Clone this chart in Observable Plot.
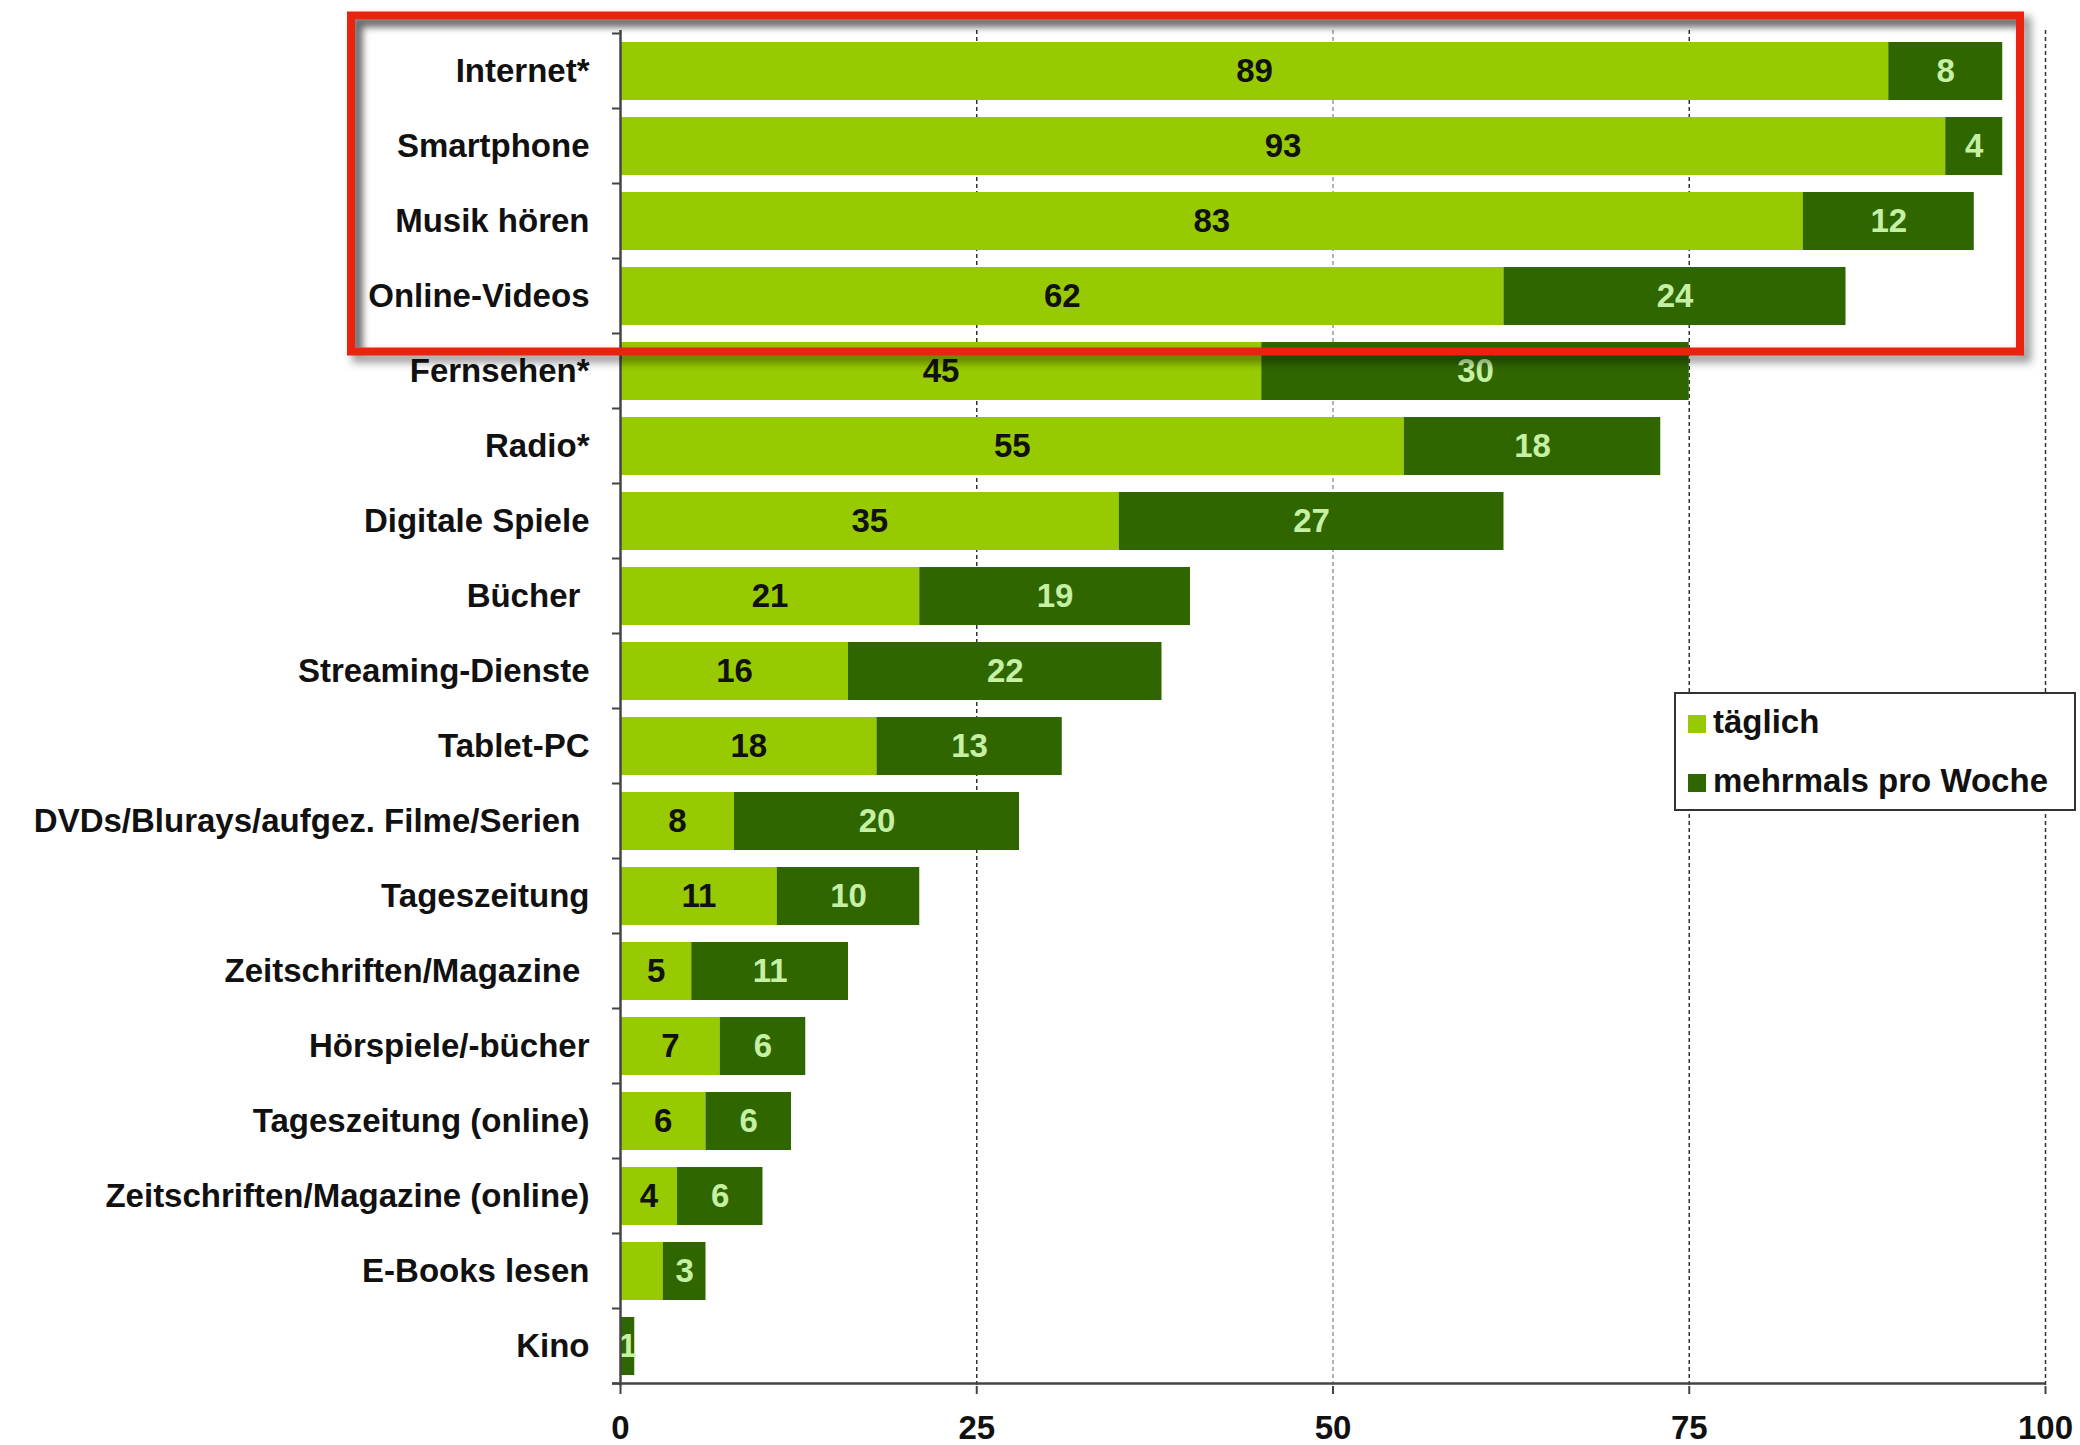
<!DOCTYPE html>
<html>
<head>
<meta charset="utf-8">
<script src="https://cdn.jsdelivr.net/npm/d3@7"></script>
<script src="https://cdn.jsdelivr.net/npm/@observablehq/plot@0.6"></script>
<style>
  body { margin: 0; background: #fff; }
  #chart { width: 2080px; height: 1445px; }
</style>
</head>
<body>
<div id="chart"></div>
<script>
// ---- data ----
const categories = [
  "Internet*", "Smartphone", "Musik hören", "Online-Videos", "Fernsehen*", "Radio*",
  "Digitale Spiele", "Bücher\u00a0", "Streaming-Dienste", "Tablet-PC",
  "DVDs/Blurays/aufgez. Filme/Serien\u00a0", "Tageszeitung", "Zeitschriften/Magazine\u00a0",
  "Hörspiele/-bücher", "Tageszeitung (online)", "Zeitschriften/Magazine (online)",
  "E-Books lesen", "Kino"
];
const taeglich = [89, 93, 83, 62, 45, 55, 35, 21, 16, 18, 8, 11, 5, 7, 6, 4, 3, 0];
const mehrmals = [8, 4, 12, 24, 30, 18, 27, 19, 22, 13, 20, 10, 11, 6, 6, 6, 3, 1];
const seriesNames = ["täglich", "mehrmals pro Woche"];
const seriesColors = ["#97ca00", "#2f6600"];
const xTicks = [0, 25, 50, 75, 100];
const gridDark = [25, 75, 100];
const gridLight = [50];
const highlighted = ["Internet*", "Smartphone", "Musik hören", "Online-Videos"];

const rows = categories.flatMap((c, i) => [
  {cat: c, series: seriesNames[0], value: taeglich[i]},
  {cat: c, series: seriesNames[1], value: mehrmals[i]}
]);

const FONT = "'Liberation Sans', Arial, Helvetica, sans-serif";

const plot = Plot.plot({
  width: 2080,
  height: 1445,
  marginLeft: 620,
  marginRight: 35,
  marginTop: 30,
  marginBottom: 59,
  style: {fontFamily: FONT, fontWeight: "bold", fontSize: "33px", color: "#111", background: "#fff"},
  x: {domain: [0, 100]},
  y: {domain: categories, paddingInner: 0.23, paddingOuter: 0.115},
  color: {domain: seriesNames, range: seriesColors},
  marks: [
    Plot.ruleX(gridDark, {stroke: "#333", strokeWidth: 1.5, strokeDasharray: "4,3"}),
    Plot.ruleX(gridLight, {stroke: "#999", strokeWidth: 1.5, strokeDasharray: "4,3"}),
    Plot.barX(rows, Plot.stackX({x: "value", y: "cat", fill: "series"})),
    Plot.text(rows, Plot.stackX({
      x: "value", y: "cat", z: "series",
      text: d => (d.series === seriesNames[0] && d.value >= 4) ? String(d.value) : null,
      fill: "#111", fontSize: 33, fontWeight: "bold"
    })),
    Plot.text(rows, Plot.stackX({
      x: "value", y: "cat", z: "series",
      text: d => (d.series === seriesNames[1] && d.value > 0) ? String(d.value) : null,
      fill: "#c6f0a4", fontSize: 33, fontWeight: "bold"
    })),
    Plot.ruleX([0], {stroke: "#444", strokeWidth: 2.5}),
    Plot.axisX({ticks: xTicks, tickSize: 8, tickPadding: 21, label: null, fontSize: 33, fontWeight: "bold", stroke: "#444", strokeWidth: 2}),
    Plot.axisY({tickSize: 0, tickPadding: 31, label: null, fontSize: 33, fontWeight: "bold"})
  ]
});

document.getElementById("chart").appendChild(plot);

// ---- post-render decorations using the plot's own scales ----
const svg = d3.select(plot);
const ys = plot.scale("y");
const xs = plot.scale("x");
const step = ys.step, bw = ys.bandwidth, gap = (step - bw) / 2;
const x0 = xs.apply(0), x100 = xs.apply(100);
const bounds = categories.map(c => ys.apply(c) - gap)
  .concat([ys.apply(categories[categories.length - 1]) + bw + gap]);
const yBottom = bounds[bounds.length - 1];

// y ticks at band boundaries
svg.append("g").selectAll("line").data(bounds).join("line")
  .attr("x1", x0 - 8).attr("x2", x0).attr("y1", d => d).attr("y2", d => d)
  .attr("stroke", "#444").attr("stroke-width", 2);
// bottom axis line
svg.append("line").attr("x1", x0 - 8).attr("x2", x100).attr("y1", yBottom).attr("y2", yBottom)
  .attr("stroke", "#444").attr("stroke-width", 2.5);

// filters
const defs = svg.append("defs");
defs.append("filter").attr("id", "blur4").attr("x", "-10%").attr("y", "-10%").attr("width", "120%").attr("height", "120%")
  .append("feGaussianBlur").attr("stdDeviation", 4);
defs.append("filter").attr("id", "blur3").attr("x", "-10%").attr("y", "-10%").attr("width", "120%").attr("height", "120%")
  .append("feGaussianBlur").attr("stdDeviation", 3);

// highlight box around the first rows
const boxTop = ys.apply(highlighted[0]) - gap - 18;
const boxBottom = ys.apply(highlighted[highlighted.length - 1]) + bw + gap + 18;
const boxLeft = x0 - 269;
const boxRight = x100 - 25;

defs.append("clipPath").attr("id", "innerClip").append("rect")
  .attr("x", boxLeft + 4).attr("y", boxTop + 4)
  .attr("width", boxRight - boxLeft - 8).attr("height", boxBottom - boxTop - 8);

const hl = svg.append("g");
// outer drop shadow
hl.append("rect")
  .attr("x", boxLeft + 6).attr("y", boxTop + 6)
  .attr("width", boxRight - boxLeft).attr("height", boxBottom - boxTop)
  .attr("fill", "none").attr("stroke", "#000").attr("stroke-opacity", 0.4)
  .attr("stroke-width", 10).attr("filter", "url(#blur4)");
// inner shadow along top & left
const inner = hl.append("g").attr("clip-path", "url(#innerClip)");
inner.append("path")
  .attr("d", `M${boxLeft + 6},${boxBottom} L${boxLeft + 6},${boxTop + 6} L${boxRight},${boxTop + 6}`)
  .attr("fill", "none").attr("stroke", "#000").attr("stroke-opacity", 0.35)
  .attr("stroke-width", 10).attr("filter", "url(#blur3)");
// red frame
hl.append("rect")
  .attr("x", boxLeft).attr("y", boxTop)
  .attr("width", boxRight - boxLeft).attr("height", boxBottom - boxTop)
  .attr("fill", "none").attr("stroke", "#ec2210").attr("stroke-width", 8);

// legend
const lg = svg.append("g").attr("transform", "translate(1675,693)");
lg.append("rect").attr("width", 400).attr("height", 117)
  .attr("fill", "#fff").attr("stroke", "#333").attr("stroke-width", 2);
seriesNames.forEach((name, i) => {
  const yy = 22 + i * 59;
  lg.append("rect").attr("x", 13).attr("y", yy).attr("width", 18).attr("height", 18)
    .attr("fill", seriesColors[i]);
  lg.append("text").attr("x", 38).attr("y", yy + 18)
    .attr("text-anchor", "start")
    .attr("font-family", FONT).attr("font-weight", "bold").attr("font-size", 33)
    .attr("fill", "#111").text(name);
});
</script>
</body>
</html>
